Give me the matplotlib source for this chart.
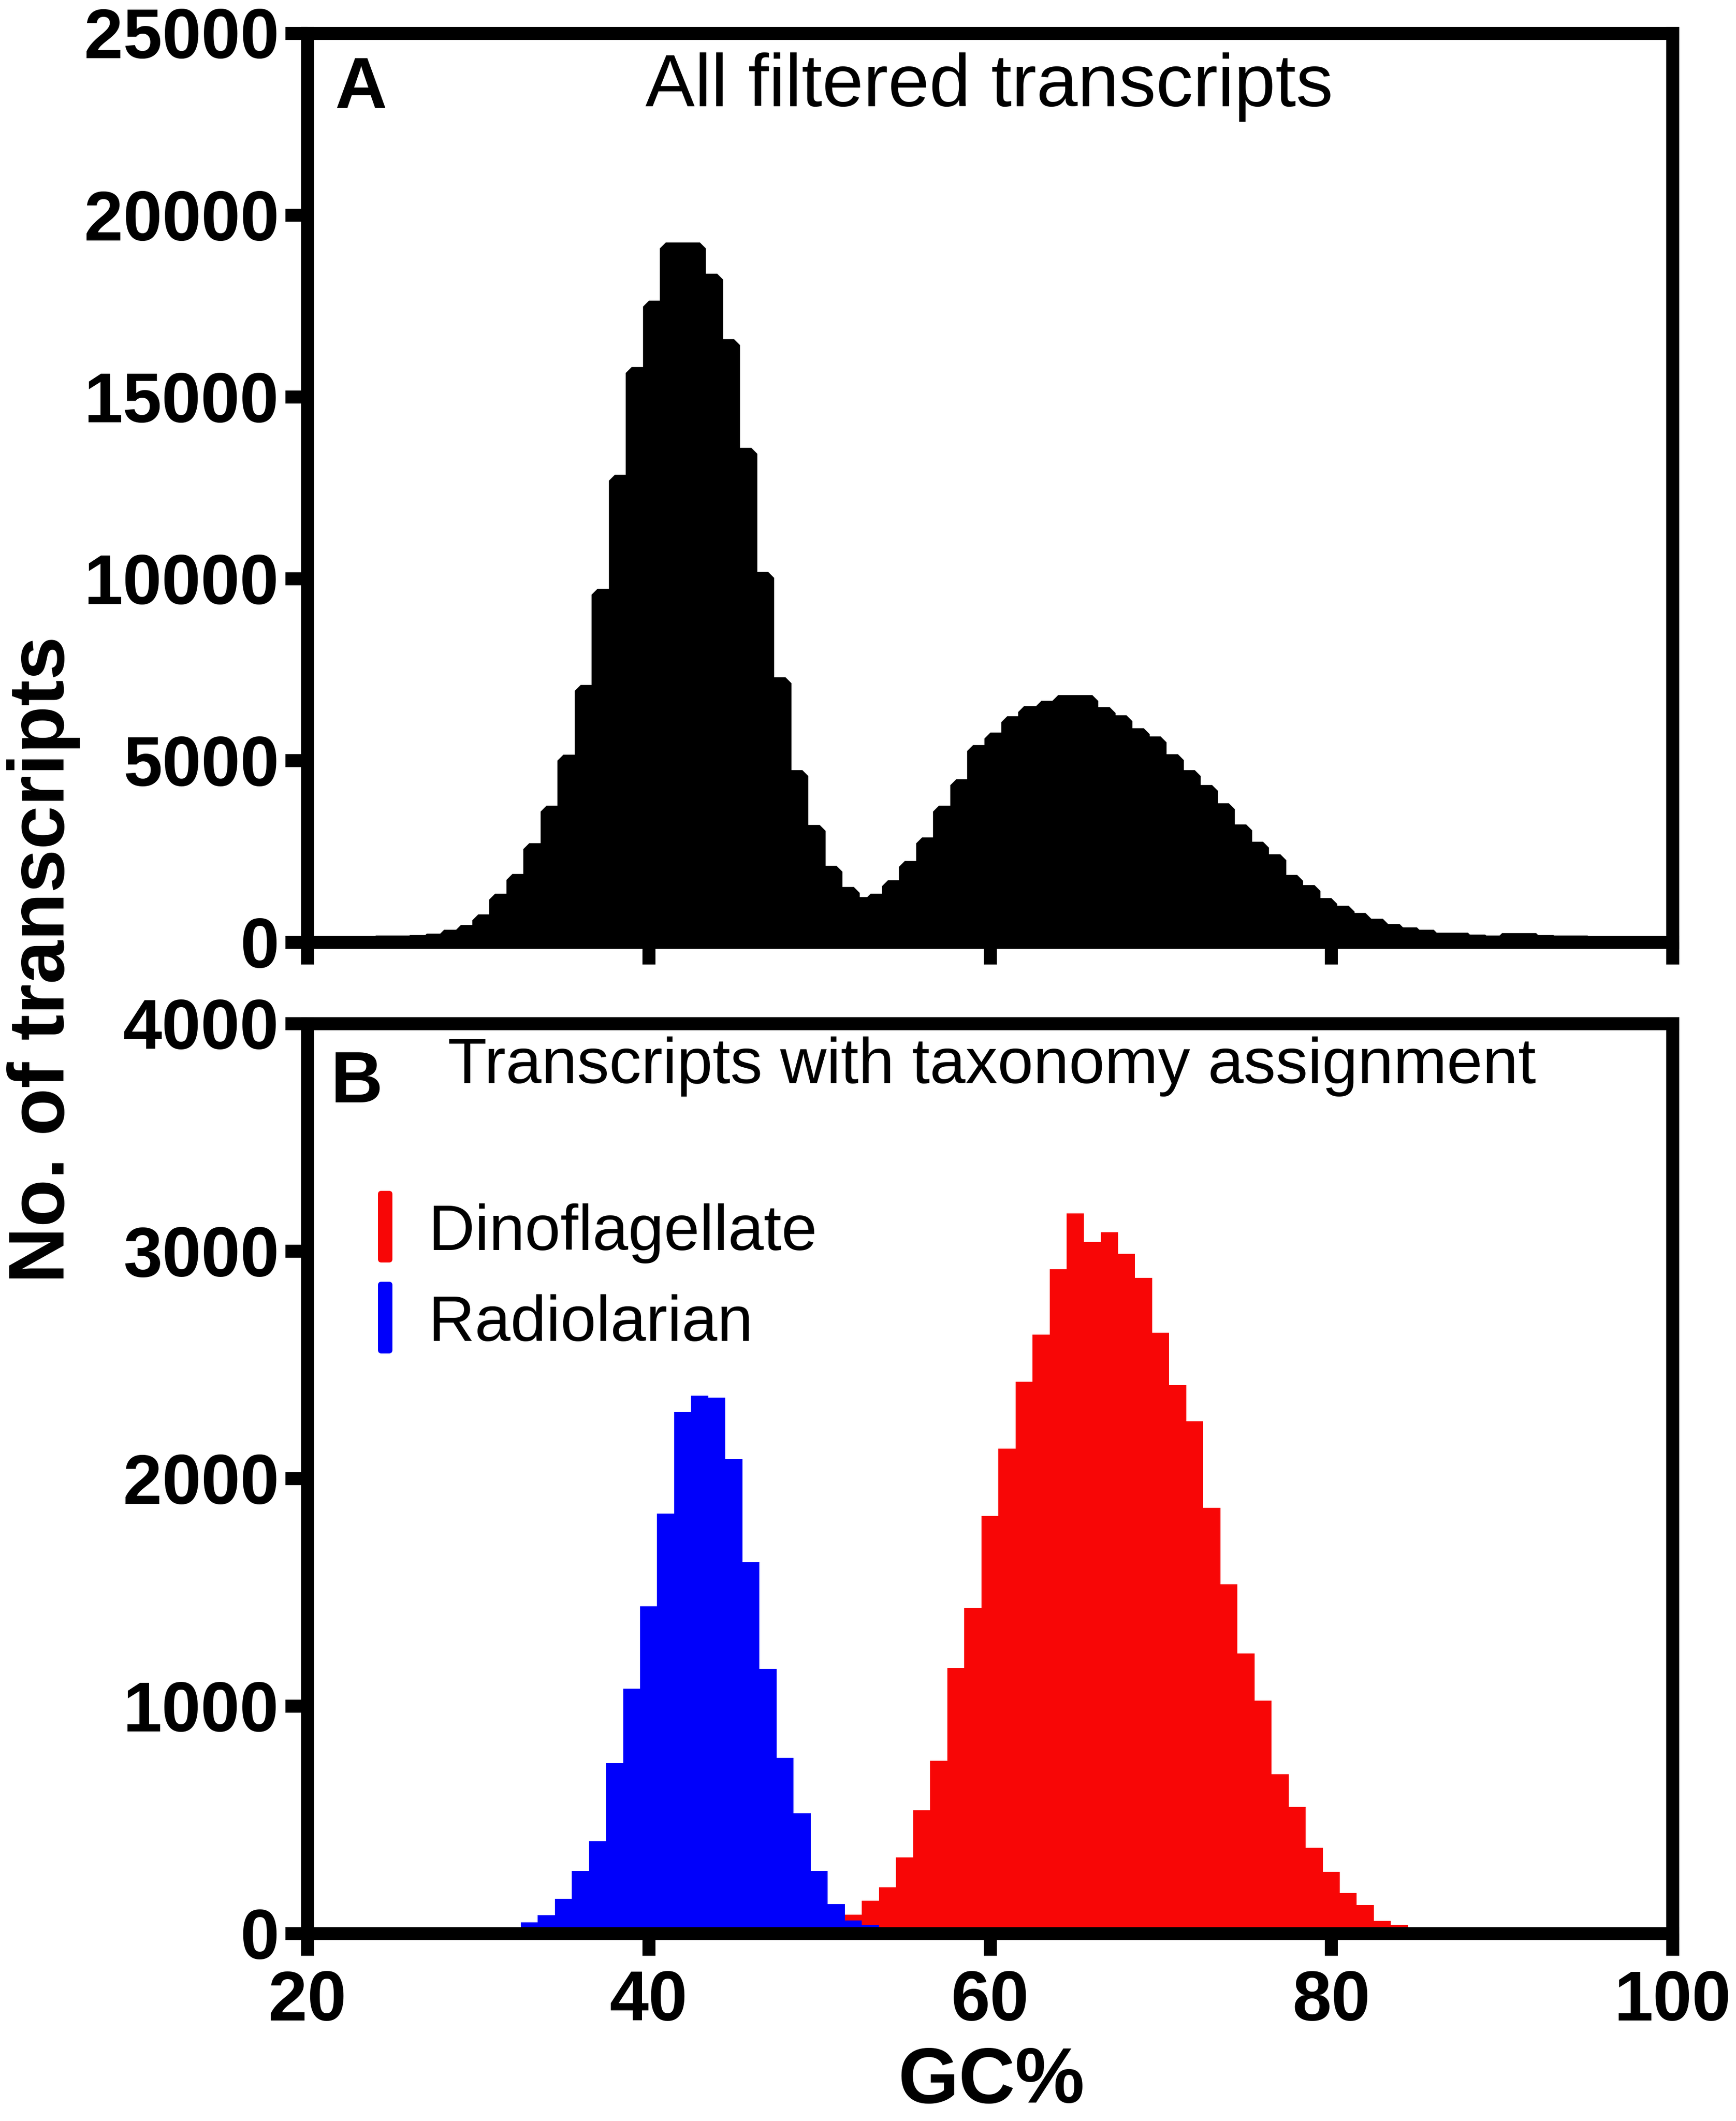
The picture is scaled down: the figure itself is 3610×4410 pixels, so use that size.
import numpy as np
import matplotlib
matplotlib.use("Agg")
import matplotlib.pyplot as plt
from matplotlib.patches import FancyBboxPatch
from matplotlib.transforms import IdentityTransform

W, H, DPI = 3610, 4410, 300

# Panel A: all filtered transcripts, 1% GC bins with left edges 20..99
gc_all_start = 20
counts_all = [
    12, 12, 15, 18, 22, 28, 40, 74, 180, 317,
    613, 1180, 1719, 2568, 3593, 4994, 6922, 9564, 12691, 15657,
    17477, 19081, 19081, 18218, 16425, 13434, 10022, 7124, 4576, 3070,
    1950, 1365, 1080, 1175, 1545, 2075, 2718, 3602, 4329, 5258,
    5606, 6055, 6339, 6478, 6636, 6636, 6307, 6086, 5720, 5505,
    5018, 4576, 4171, 3666, 3084, 2610, 2263, 1694, 1409, 1055,
    847, 645, 487, 348, 253, 190, 107, 107, 51, 32,
    95, 95, 44, 25, 25, 6, 6, 6, 6, 6,
]

# Panel B: bins centred on integer GC%
gc_radio_start = 33
counts_radio = [
    49, 81, 152, 275, 405, 748, 1077, 1438, 1846, 2292,
    2364, 2356, 2084, 1632, 1162, 771, 528, 275, 130, 57,
    37, 8,
]
gc_dino_start = 51
counts_dino = [
    30, 82, 143, 203, 333, 542, 758, 1166, 1432, 1836,
    2132, 2424, 2633, 2920, 3164, 3041, 3082, 2987, 2881, 2640,
    2411, 2251, 1871, 1534, 1231, 1024, 700, 557, 376, 270,
    177, 125, 56, 39, 10,
]

RED = "#f80606"
BLUE = "#0000fb"
legend_labels = ["Dinoflagellate", "Radiolarian"]
legend_colors = [RED, BLUE]

x_ticks = [20, 40, 60, 80, 100]
y_ticks_a = [0, 5000, 10000, 15000, 20000, 25000]
y_ticks_b = [0, 1000, 2000, 3000, 4000]

plt.rcParams["font.family"] = ["Liberation Sans", "DejaVu Sans"]

fig = plt.figure(figsize=(W / DPI, H / DPI), dpi=DPI)

# axes boxes in output pixels (left, right, top, bottom)
X0, X1 = 639, 3478
axA = fig.add_axes([X0 / W, 1 - 1959 / H, (X1 - X0) / W, (1959 - 68.5) / H])
axB = fig.add_axes([X0 / W, 1 - 4020 / H, (X1 - X0) / W, (4020 - 2128) / H])


def style(ax, yticks):
    ax.set_xlim(20, 100)
    ax.set_ylim(yticks[0], yticks[-1])
    ax.set_xticks(x_ticks)
    ax.set_yticks(yticks)
    ax.set_xticklabels([str(t) for t in x_ticks], fontsize=35, fontweight="bold")
    ax.set_yticklabels([str(t) for t in yticks], fontsize=35, fontweight="bold")
    for s in ax.spines.values():
        s.set_linewidth(6.5)
        s.set_color("black")
    ax.tick_params(length=11, width=6.5, direction="out", color="black")
    ax.tick_params(axis="x", pad=7)
    ax.tick_params(axis="y", pad=3)


# --- Panel A ---
edges_all = np.arange(gc_all_start, gc_all_start + len(counts_all) + 1)
axA.stairs(counts_all, edges_all, fill=True, facecolor="black", edgecolor="black",
           linewidth=5.9, joinstyle="bevel", clip_on=False, zorder=2)
style(axA, y_ticks_a)
axA.tick_params(axis="x", labelbottom=False)

# --- Panel B ---
def centred_edges(start, n):
    c = np.arange(start, start + n)
    return np.append(c - 0.5, c[-1] + 0.5)

axB.stairs(counts_dino, centred_edges(gc_dino_start, len(counts_dino)),
           fill=True, color=RED, linewidth=0, zorder=2)
axB.stairs(counts_radio, centred_edges(gc_radio_start, len(counts_radio)),
           fill=True, color=BLUE, linewidth=0, zorder=2.1)
style(axB, y_ticks_b)

# legend: thin rounded colour bars plus labels
for i, (lab, col) in enumerate(zip(legend_labels, legend_colors)):
    top = 2476 + i * 189
    fig.add_artist(FancyBboxPatch((786, H - top - 149), 30, 149,
                                  boxstyle="round,pad=0,rounding_size=7",
                                  transform=IdentityTransform(),
                                  facecolor=col, edgecolor="none"))
    fig.text(891 / W, 1 - (2599 + i * 189) / H, lab, fontsize=32,
             ha="left", va="baseline")

# panel titles and letters
fig.text(2057 / W, 1 - 221 / H, "All filtered transcripts", fontsize=37,
         ha="center", va="baseline")
fig.text(696 / W, 1 - 223 / H, "A", fontsize=36, fontweight="bold",
         ha="left", va="baseline")
fig.text(2062 / W, 1 - 2252 / H, "Transcripts with taxonomy assignment", fontsize=32,
         ha="center", va="baseline")
fig.text(688 / W, 1 - 2292 / H, "B", fontsize=36, fontweight="bold",
         ha="left", va="baseline")

# axis labels
fig.text(2061 / W, 1 - 4372 / H, "GC%", fontsize=39, fontweight="bold",
         ha="center", va="baseline")
fig.text(133 / W, 1 - 1995 / H, "No. of transcripts", fontsize=39, fontweight="bold",
         rotation=90, rotation_mode="anchor", ha="center", va="baseline")

fig.savefig("out.png", dpi=DPI)
